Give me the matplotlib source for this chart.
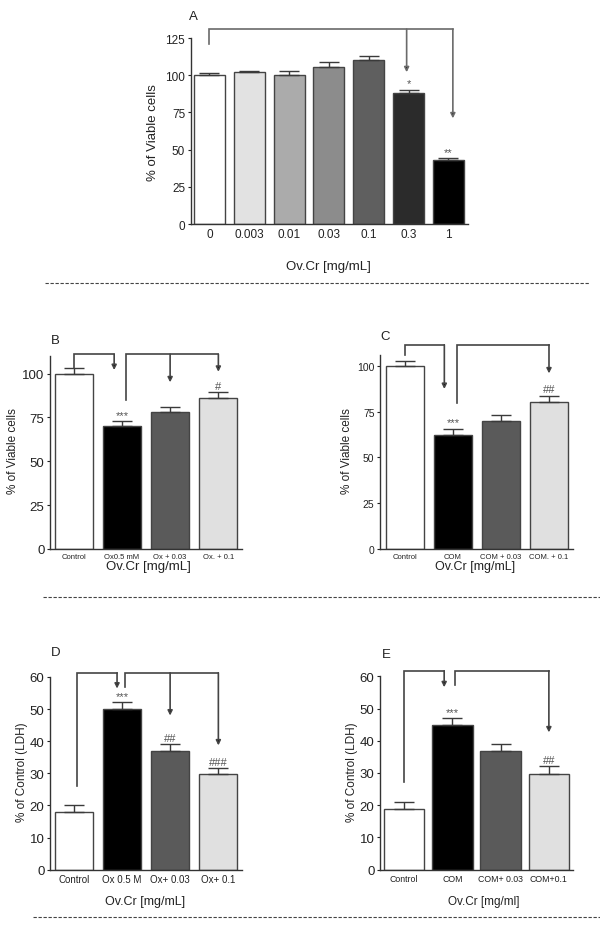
import matplotlib.pyplot as plt
from matplotlib.lines import Line2D

plt.rcParams['font.family'] = ['Liberation Sans', 'DejaVu Sans']

W, H = 600, 928

# ---- data ----
a_labels = ["0", "0.003", "0.01", "0.03", "0.1", "0.3", "1"]
a_values = [100, 102, 100, 105.5, 110, 88, 43]
a_errors = [1.4, 0.6, 2.6, 3.4, 2.7, 2.2, 1.1]
a_marks = ["", "", "", "", "", "*", "**"]

b_labels = ["Control", "Ox0.5 mM", "Ox + 0.03", "Ox. + 0.1"]
b_values = [100, 70.3, 78.3, 86.1]
b_errors = [2.9, 2.5, 2.7, 3.2]
b_marks = ["", "***", "", "#"]

c_labels = ["Control", "COM", "COM + 0.03", "COM. + 0.1"]
c_values = [100, 62.4, 70, 80]
c_errors = [2.7, 3.1, 3.1, 3.6]
c_marks = ["", "***", "", "##"]

d_labels = ["Control", "Ox 0.5 M", "Ox+ 0.03", "Ox+ 0.1"]
d_values = [18.1, 50.1, 37, 29.9]
d_errors = [2.0, 2.1, 2.1, 1.7]
d_marks = ["", "***", "##", "###"]

e_labels = ["Control", "COM", "COM+ 0.03", "COM+0.1"]
e_values = [18.7, 44.9, 36.8, 29.8]
e_errors = [2.2, 2.1, 2.1, 2.3]
e_marks = ["", "***", "", "##"]

GREYS7 = ['white', '#e2e2e2', '#ababab', '#8c8c8c', '#5f5f5f', '#2b2b2b', 'black']
GREYS4 = ['white', 'black', '#5a5a5a', '#e0e0e0']

fig = plt.figure(figsize=(W / 100, H / 100), dpi=100)


def px_axes(left, top, right, bottom):
    return fig.add_axes([left / W, 1 - bottom / H, (right - left) / W, (bottom - top) / H])


def draw_panel(ax, labels, values, errors, marks, colors, width, xlim, ylim,
               yticks, ytick_fs, xtick_fs, brackets, line_col):
    x = list(range(len(values)))
    ax.bar(x, values, width=width, color=colors, edgecolor='#444444', linewidth=1.0, zorder=2)
    ax.errorbar(x, values, yerr=[[0] * len(errors), errors], fmt='none',
                ecolor='#3a3a3a', elinewidth=1.0, capsize=7, capthick=1.0, zorder=3)
    for xi, v, e, m in zip(x, values, errors, marks):
        if m:
            ax.annotate(m, (xi, v + e), xytext=(0, 1), textcoords='offset points',
                        ha='center', va='bottom', fontsize=8, color='#555555')
    ax.set_xlim(*xlim)
    ax.set_ylim(*ylim)
    ax.set_yticks(yticks)
    ax.set_xticks(x)
    ax.set_xticklabels(labels, fontsize=xtick_fs, color='#222222')
    ax.tick_params(axis='y', labelsize=ytick_fs, length=2.5, pad=1.5, colors='#222222')
    ax.tick_params(axis='x', length=0, pad=3)
    for s in ['top', 'right']:
        ax.spines[s].set_visible(False)
    for s in ['left', 'bottom']:
        ax.spines[s].set_color('#333333')
        ax.spines[s].set_linewidth(1.0)

    # comparison brackets
    for x0, y0, ytop, x1, drops in brackets:
        ax.plot([x0, x0, x1], [y0, ytop, ytop], color=line_col, lw=1.2,
                clip_on=False, solid_joinstyle='miter', zorder=4)
        for xd, tip in drops:
            ax.annotate('', xy=(xd, tip), xytext=(xd, ytop),
                        arrowprops=dict(arrowstyle='-|>', color=line_col, lw=1.2,
                                        mutation_scale=7, shrinkA=0, shrinkB=0,
                                        fc='black', ec=line_col),
                        annotation_clip=False, zorder=4)


def fig_text(xp, yp, s, **kw):
    fig.text(xp / W, 1 - yp / H, s, **kw)


# Panel A
axA = px_axes(190.7, 39, 468, 225)
draw_panel(axA, a_labels, a_values, a_errors, a_marks, GREYS7, 0.78, (-0.47, 6.49), (0, 125),
           range(0, 126, 25), 8.5, 8.5,
           [(0, 121, 131, 6.11, [(4.95, 102), (6.11, 71)])], '#6a6a6a')

# Panel B
axB = px_axes(50, 357, 242, 550)
draw_panel(axB, b_labels, b_values, b_errors, b_marks, GREYS4, 0.79, (-0.49, 3.49), (0, 110),
           range(0, 101, 25), 9.5, 5.5,
           [(0, 103, 111, 0.84, [(0.84, 102)]),
            (1.09, 84.7, 111, 3.0, [(2.0, 95), (3.0, 101)])], '#444444')

# Panel C
axC = px_axes(380, 355.7, 573, 550)
draw_panel(axC, c_labels, c_values, c_errors, c_marks, GREYS4, 0.8, (-0.52, 3.5), (0, 106),
           range(0, 101, 25), 7.5, 5.5,
           [(0, 105.8, 111.4, 0.82, [(0.82, 87.3)]),
            (1.08, 79.5, 111.4, 3.0, [(3.0, 95.8)])], '#444444')

# Panel D
axD = px_axes(50, 678, 242, 870.7)
draw_panel(axD, d_labels, d_values, d_errors, d_marks, GREYS4, 0.79, (-0.49, 3.49), (0, 60),
           range(0, 61, 10), 9.5, 7,
           [(0.08, 26.2, 61.3, 0.9, [(0.9, 56.4)]),
            (1.07, 56.9, 61.3, 3.0, [(2.0, 48), (3.0, 38.7)])], '#444444')

# Panel E
axE = px_axes(380, 677.3, 573, 870.7)
draw_panel(axE, e_labels, e_values, e_errors, e_marks, GREYS4, 0.84, (-0.5, 3.5), (0, 60),
           range(0, 61, 10), 9.5, 6.3,
           [(0, 27.1, 61.7, 0.83, [(0.83, 56.6)]),
            (1.06, 57.4, 61.7, 3.0, [(3.0, 42.6)])], '#444444')

# panel letters
for xp, yp, s in [(189, 16.7, "A"), (50.7, 341, "B"), (380, 336.7, "C"),
                  (50.7, 653.3, "D"), (381.7, 655, "E")]:
    fig_text(xp, yp, s, fontsize=9.5, ha='left', va='center', color='#222222')

# axis labels
for xp, yp, s, fs in [(328, 266.7, "Ov.Cr [mg/mL]", 9.5), (148, 567.3, "Ov.Cr [mg/mL]", 9.5),
                      (475, 566.7, "Ov.Cr [mg/mL]", 9), (145, 901.7, "Ov.Cr [mg/mL]", 9),
                      (484, 901.7, "Ov.Cr [mg/ml]", 8.5)]:
    fig_text(xp, yp, s, fontsize=fs, ha='center', va='center', color='#222222')

for xp, yp, s, fs in [(153.3, 132.5, "% of Viable cells", 9.5), (13, 450.8, "% of Viable cells", 8.5),
                      (346.7, 450.8, "% of Viable cells", 8.5), (21.7, 772.5, "% of Control (LDH)", 8.5),
                      (351.7, 772.5, "% of Control (LDH)", 8.5)]:
    fig_text(xp, yp, s, fontsize=fs, ha='center', va='center', rotation=90, color='#222222')

# dashed separators
for x0, x1, yp in [(45, 590, 283.5), (43, 600, 598), (33, 600, 917.5)]:
    fig.add_artist(Line2D([x0 / W, x1 / W], [1 - yp / H, 1 - yp / H], transform=fig.transFigure,
                          color='#444444', lw=0.8, linestyle=(0, (3, 1.5))))

fig.savefig("out.png", dpi=100)
